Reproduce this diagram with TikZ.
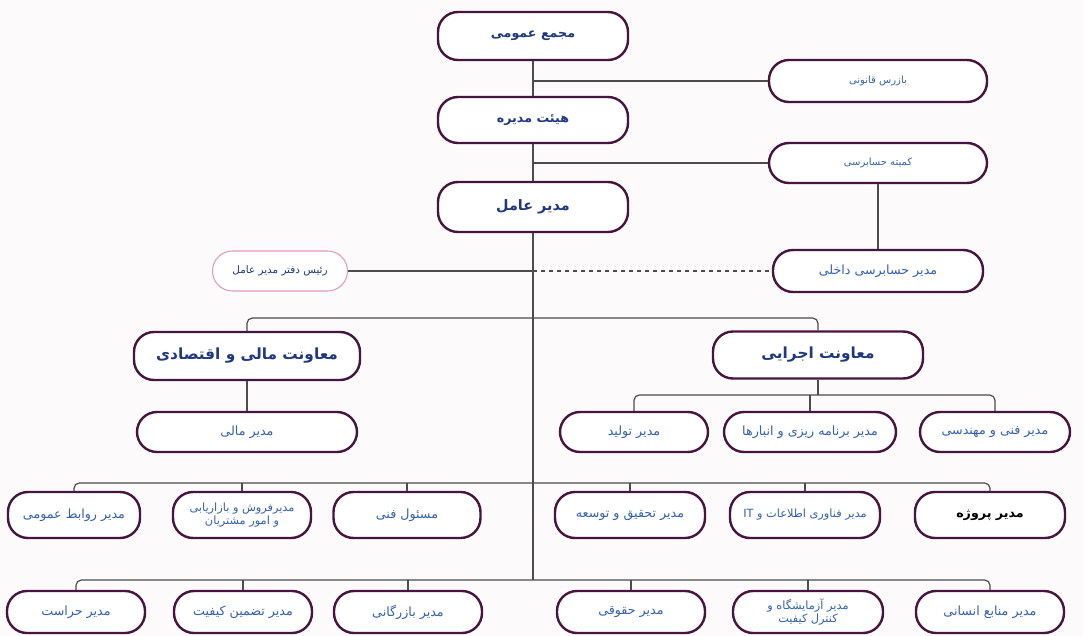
\documentclass[tikz,border=0pt]{standalone}
\usepackage{fontspec}
\usepackage{tikz}
\usetikzlibrary{positioning}
\newfontfamily\arabicfont[Script=Arabic]{DejaVu Sans}
\TeXXeTstate=1
\newcommand{\px}{0.75pt}
\newcommand{\fa}[1]{\beginR #1\endR}
\definecolor{mpurple}{rgb}{0.28, 0.08, 0.25}
\definecolor{mblue}{rgb}{0.2, 0.38, 0.68}
\definecolor{mnavy}{rgb}{0.12, 0.22, 0.5}
\definecolor{mpink}{rgb}{0.9, 0.6, 0.75}
\definecolor{mgray}{rgb}{0.3, 0.3, 0.3}
\definecolor{mpaper}{rgb}{0.99, 0.98, 0.98}
\tikzset{box/.style = {draw = mpurple, line width = 1.8pt, rounded corners = 15pt,
                       fill = white, text = mblue, inner sep = 2pt, align = center,
                       font = \arabicfont\fontsize{9.5}{11}\selectfont}}
\tikzset{small/.style = {font = \arabicfont\fontsize{7.5}{9}\selectfont}}
\tikzset{mid/.style = {font = \arabicfont\fontsize{8.5}{10}\selectfont}}
\tikzset{head/.style = {box, text = mnavy, font = \arabicfont\bfseries\fontsize{9.5}{11}\selectfont}}
\tikzset{vp/.style = {box, text = mnavy, font = \arabicfont\bfseries\fontsize{11.5}{13}\selectfont}}
\tikzset{faint/.style = {box, draw = mpink, line width = 0.8pt, text = mnavy,
                         font = \arabicfont\fontsize{7.8}{9}\selectfont}}
\tikzset{bw/.style = {minimum width = #1*\px}}
\tikzset{bh/.style = {minimum height = #1*\px}}
\tikzset{link/.style = {draw = mgray, line width = 0.9pt, rounded corners = 4pt}}

\begin{document}
\begin{tikzpicture}[x = \px, y = -\px]
      \fill [mpaper] (0, 0) rectangle (1083, 636);
      \useasboundingbox (0, 0) rectangle (1083, 636);

      \node [head, bw = 190, bh = 48] (gm) at (533, 36) {\fa{مجمع عمومی}};
      \node [box, small, bw = 218, bh = 42] (aud) at (878, 81) {\fa{بازرس قانونی}};
      \node [head, bw = 190, bh = 46] (board) at (533, 120) {\fa{هیئت مدیره}};
      \node [box, small, bw = 218, bh = 40] (com) at (878, 163) {\fa{کمیته حسابرسی}};
      \node [head, bw = 190, bh = 50, font = \arabicfont\bfseries\fontsize{10.8}{12}\selectfont] (ceo) at (533, 207) {\fa{مدیر عامل}};
      \node [faint, bw = 135, bh = 40] (off) at (280, 271) {\fa{رئیس دفتر مدیر عامل}};
      \node [box, bw = 210, bh = 42] (int) at (878, 271) {\fa{مدیر حسابرسی داخلی}};

      \node [vp, bw = 226, bh = 48] (vpf) at (247, 356) {\fa{معاونت مالی و اقتصادی}};
      \node [vp, bw = 210, bh = 47] (vpe) at (818, 355) {\fa{معاونت اجرایی}};

      \node [box, bw = 220, bh = 40] (fin) at (247, 432) {\fa{مدیر مالی}};
      \node [box, bw = 148, bh = 40] (prod) at (634, 432) {\fa{مدیر تولید}};
      \node [box, bw = 172, bh = 40] (plan) at (810, 432) {\fa{مدیر برنامه ریزی و انبارها}};
      \node [box, bw = 150, bh = 40] (tech) at (995, 432) {\fa{مدیر فنی و مهندسی}};

      \node [box, bw = 132, bh = 46] (pr) at (74, 515) {\fa{مدیر روابط عمومی}};
      \node [box, mid, bw = 138, bh = 46] (sales) at (242, 515) {\fa{مدیرفروش و بازاریابی}\\\fa{و امور مشتریان}};
      \node [box, bw = 147, bh = 46] (tres) at (407, 515) {\fa{مسئول فنی}};
      \node [box, bw = 150, bh = 46] (rd) at (630, 515) {\fa{مدیر تحقیق و توسعه}};
      \node [box, mid, bw = 150, bh = 46] (it) at (805, 515) {\fa{مدیر فناوری اطلاعات و \beginL IT\endL{}}};
      \node [head, bw = 150, bh = 46, text = black] (proj) at (990, 515) {\fa{مدیر پروژه}};

      \node [box, bw = 138, bh = 42] (sec) at (76, 612) {\fa{مدیر حراست}};
      \node [box, bw = 138, bh = 42] (qa) at (243, 612) {\fa{مدیر تضمین کیفیت}};
      \node [box, bw = 148, bh = 42] (bzr) at (408, 612) {\fa{مدیر بازرگانی}};
      \node [box, bw = 148, bh = 42] (law) at (631, 612) {\fa{مدیر حقوقی}};
      \node [box, mid, bw = 150, bh = 42] (lab) at (808, 612) {\fa{مدیر آزمایشگاه و}\\\fa{کنترل کیفیت}};
      \node [box, bw = 148, bh = 42] (hr) at (990, 612) {\fa{مدیر منابع انسانی}};

      \coordinate (j1) at (533, 81);
      \coordinate (j2) at (533, 163);
      \coordinate (j3) at (533, 271);
      \coordinate (bus1) at (533, 318);
      \coordinate (bus2) at (818, 395);
      \coordinate (bus3) at (533, 483);
      \coordinate (bus4) at (533, 580);

      \draw [link] (gm) -- (board);
      \draw [link] (board) -- (ceo);
      \draw [link] (ceo) -- (bus4);
      \draw [link] (j1) -- (aud);
      \draw [link] (j2) -- (com);
      \draw [link] (com) -- (int);
      \draw [link, dashed] (j3) -- (int);
      \draw [link] (off) -- (j3);

      \draw [link] (vpf.north) |- (bus1) -| (vpe.north);
      \draw [link] (vpf) -- (fin);
      \draw [link] (vpe) -- (bus2);
      \draw [link] (prod.north) |- (bus2) -| (tech.north);
      \draw [link] (plan.north) -- (plan.north |- bus2);

      \draw [link] (pr.north) |- (bus3) -| (proj.north);
      \draw [link] (sales.north) -- (sales.north |- bus3);
      \draw [link] (tres.north) -- (tres.north |- bus3);
      \draw [link] (rd.north) -- (rd.north |- bus3);
      \draw [link] (it.north) -- (it.north |- bus3);

      \draw [link] (sec.north) |- (bus4) -| (hr.north);
      \draw [link] (qa.north) -- (qa.north |- bus4);
      \draw [link] (bzr.north) -- (bzr.north |- bus4);
      \draw [link] (law.north) -- (law.north |- bus4);
      \draw [link] (lab.north) -- (lab.north |- bus4);
\end{tikzpicture}
\end{document}
